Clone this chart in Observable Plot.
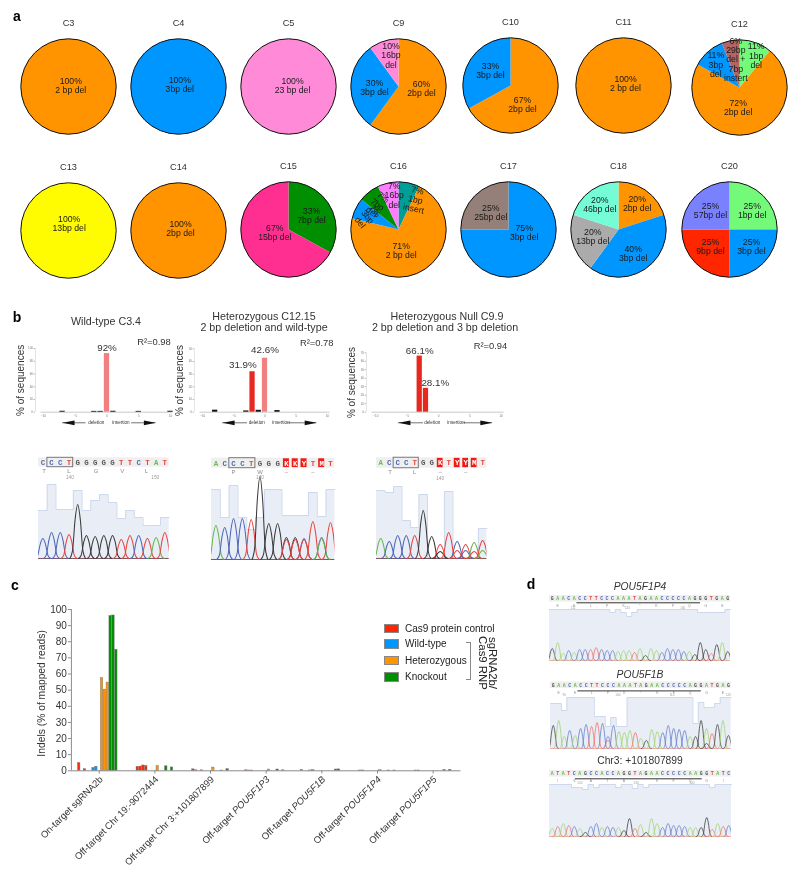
<!DOCTYPE html>
<html>
<head>
<meta charset="utf-8">
<script src="https://cdn.jsdelivr.net/npm/d3@7"></script>
<script src="https://cdn.jsdelivr.net/npm/@observablehq/plot@0.6"></script>
<style>
  html,body{margin:0;padding:0;background:#fff}
  #page{position:relative;width:800px;height:879px;overflow:hidden;background:#fff;font-family:"Liberation Sans",Arial,sans-serif;color:#222;filter:blur(.3px)}
  #page svg{max-width:none}
</style>
</head>
<body>
<div id="page"></div>
<script>
/* ---------- colours ---------- */
const TANGERINE="#FF9300", AQUA="#0096FF", CARNATION="#FF8AD8", LEMON="#FFFB00", STRAWBERRY="#FF2F92",
      CLOVER="#008F00", MAUVE="#B36464", FLORA="#73FA79", TEAL="#009E96", SPINDRIFT="#73FCD6",
      SILVER="#ABABAB", MOCHA="#948078", PERIWINKLE="#7A81FF", MARASCHINO="#FF2600", BUBBLEGUM="#FF7EFF";

/* ---------- panel a: clones ---------- */
const pieTitles=["C3","C4","C5","C9","C10","C11","C12","C13","C14","C15","C16","C17","C18","C20"];
const pieShares=[[100],[100],[100],[60,30,10],[67,33],[100],[11,72,11,6],
                 [100],[100],[33,67],[7,71,7,7,7],[75,25],[20,40,20,20],[25,25,25,25]];
const pieColors=[[TANGERINE],[AQUA],[CARNATION],[TANGERINE,AQUA,CARNATION],[TANGERINE,AQUA],[TANGERINE],[FLORA,TANGERINE,AQUA,MAUVE],
                 [LEMON],[TANGERINE],[CLOVER,STRAWBERRY],[TEAL,TANGERINE,AQUA,CLOVER,BUBBLEGUM],[AQUA,MOCHA],[TANGERINE,AQUA,SILVER,SPINDRIFT],[FLORA,AQUA,MARASCHINO,PERIWINKLE]];
const pieTexts=[["100%\n2 bp del"],["100%\n3bp del"],["100%\n23 bp del"],["60%\n2bp del","30%\n3bp del","10%\n16bp\ndel"],["67%\n2bp del","33%\n3bp del"],["100%\n2 bp del"],
                ["11%\n1bp\ndel","72%\n2bp del","11%\n3bp\ndel","6%\n29bp\ndel +\n7bp\ninstert"],
                ["100%\n13bp del"],["100%\n2bp del"],["33%\n7bp del","67%\n15bp del"],["7%\n1bp\ninsert","71%\n2 bp del","7%\n3bp\ndel","7%\n7bp\ndel","7%\n16bp\ndel"],
                ["75%\n3bp del","25%\n25bp del"],["20%\n2bp del","40%\n3bp del","20%\n13bp del","20%\n46bp del"],["25%\n1bp del","25%\n3bp del","25%\n9bp del","25%\n57bp del"]];
/* page placement of each pie, label nudges relative to pie centre */
const pieCentreX=[68.3,178.3,288.3,397.6,509.5,622.5,738.8,67.7,178,287.7,397.7,508,618.2,729];
const pieCentreY=[85.7,85.7,86,86,85.3,85,87,230,230.3,229.3,229.3,229,229,229];
const pieTextDx=[[2.3],[1.3],[4],[23,-24,-7.5],[12,-20],[2],[16.7,-1.3,-23.7,-3.7],[.7],[2],[23,-13.7],[17,2.7,-31,-21,-4.3],[15.7,-17.7],[18.7,14.7,-25.7,-18.7],[22.7,22,-19,-19]];
const pieTextDy=[[-1],[-2.3],[-1.3],[2.3,1,-31],[19,-15],[-2.3],[-31.7,20,-22.7,-28],[-6.7],[-2.3],[-14,3.3],[-30,21,-12.7,-25,-34],[3,-17],[-26.3,24,6.7,-25.3],[-19.3,17.3,17.3,-19.3]];
const pieTextTurn=[[0],[0],[0],[0,0,0],[0,0],[0],[0,0,0,0],[0],[0],[0,0],[12,0,52,38,0],[0,0],[0,0,0,0],[0,0,0,0]];

/* ---------- panel b: indel spectra ---------- */
const specTitles=[["Wild-type C3.4"],["Heterozygous C12.15","2 bp deletion and wild-type"],["Heterozygous Null C9.9","2 bp deletion and 3 bp deletion"]];
const specR2=["R²=0.98","R²=0.78","R²=0.94"];
const specShiftsMain=[[0],[-2,0],[-3,-2]];
const specValuesMain=[[92],[31.9,42.6],[66.1,28.1]];
const specLabels=[["92%"],["31.9%","42.6%"],["66.1%","28.1%"]];
const specShiftsMinor=[[-7,-2,-1,1,5,10],[-8,-3,-1,2],[]];
const specValuesMinor=[[1.5,1.3,1.3,1.5,1.3,1.5],[1.6,1,1.5,1.3],[]];
const specAxisMax=[100,50,70];

/* ---------- chromatograms ---------- */
const seqB1="CCCTGGGGGTTCTAT", seqB2="ACCCTGGGKKYTMT", seqB3="ACCCTGGKTYYMT";
const peaksB1="C20 C26 C26 T24 G54 G23 G22 G23 G23 T19 T23 C23 T20 A21 T26";
const peaksB2="A34 C32 C41 C41 T40 G83 G36 G36 G22/T20 G22/T20 C21/T20 T38 C22/A21 T37";
const peaksB3="A20 C17 C23 C23 T23 G48 G22 T14/G7 T26 C17/T8 T14/C8 A16/T7 T18/A8";
const qualB1=[48,74,49,49,68,48,58,64,56,40,48,41,33,33,41];
const qualB2=[70,42,74,42,30,42,70,70,44,44,44,67,43,70];
const qualB3=[68,66,72,38,31,64,1,1,67,1,1,1,30];
const seqD1="GAACACCTTCCCAAATAGAACCCCCAGGGTGAG", seqD2="GAACACCTTCCCAAATAGAACCCCCAGGATGAG", seqD3="ATATCAGCCACCAGGTAGAACCCCCAAGGTATC";
const peaksD1="G12 A18 A7 C10 A8 C11 C11 T11 T13 C11 C10 C10 A9 A10 A10 T8 A12 G5 A12 A10 C8 C12 C11 C11 C9 A9 G6 G18 G11 T7 G16 A18 G9";
const peaksD2="G23 A28 A12 C18 A13 C20 C24 T22 T26 C25 C12/T8 C23 A17 A16 A18 T16 A10 G8 A19 A17 C16 C23 C20 C19 C18 A12 G12 G28 A20/G5 T15 G24 A28 G13";
const peaksD3="A8 T10 A13 T11 C10 A8 G4 C10 C13 A9 C10 C9 A9 G6 G18 T8 A12 G4 A18 A13 C9 C13 C11 C11 C10 A9 A9 G9 G19 T7 A13 T10 C11";
const qualD1=[51,51,51,51,51,51,51,51,51,51,51,48,51,48,44,48,51,51,51,51,51,51,51,51,51,51,51,48,48,48,48,48,51];
const qualD2=[45,45,38,51,51,51,51,51,32,32,22,31,22,22,51,51,51,51,51,51,51,51,51,51,51,51,25,46,41,41,45,51,51];
const qualD3=[52,52,52,52,49,49,47,52,49,52,52,52,49,52,52,48,52,49,52,52,52,52,52,52,52,52,52,52,52,49,52,52,52];
const aminoB1=[[0.15,"T"],[3,"L"],[6.1,"G"],[9.1,"V"],[11.9,"L"]];
const aminoB2=[[2,"P"],[5,"W"],[8,"–"],[11,"–"]];
const aminoB3=[[1.1,"T"],[4,"L"],[7,"–"],[10,"–"]];
const codonsB1=[[3.1,"140"],[12.9,"150"]], codonsB2=[[5,"140"]], codonsB3=[[7,"140"]];
const aminoD1=[[1,"E"],[4,"E"],[7,"L"],[10,"P"],[13,"K"],[16,"*"],[19,"K"],[22,"F"],[25,"Q"],[28,"G"],[31,"E"]];
const aminoD2=aminoD1;
const aminoD3=[[1,"I"],[4,"S"],[7,"A"],[10,"T"],[13,"A"],[19,"K"],[22,"F"],[25,"Q"],[28,"G"],[31,"I"]];
const codonsD1=[[3.8,"112"],[13.7,"120"],[23.8,"130"]], codonsD2=[[2,"90"],[11.8,"100"],[21.7,"110"],[32,"120"]], codonsD3=[[5,"120"],[15.2,"130"],[25.3,"140"]];

/* ---------- panel c: amplicon indels ---------- */
const targets=["On-target sgRNA2b","Off-target Chr 19:-9072444","Off-target Chr 3:+101807899","Off-target POU5F1P3","Off-target POU5F1B","Off-target POU5F1P4","Off-target POU5F1P5"];
const conditions=["Cas9 protein control","Wild-type","Heterozygous","Knockout"];
const conditionColors=[MARASCHINO,AQUA,TANGERINE,CLOVER];
const conditionOfSample=[0,0,0,0,0,1,1,1,2,2,2,3,3,3];
const indelsOnTarget =[4.8,0,1,0,0,1.8,2.5,0,57.5,50.3,54.7,96,96.3,75];
const indelsChr19    =[0,2.5,2.6,3.3,2.9,0,0,0,3,0,0,2.8,0,2.1];
const indelsChr3     =[0,.9,.3,0,.3,0,0,0,2,0,0,.2,0,1];
const indelsP3       =[.3,.2,.2,0,0,0,0,0,.8,0,0,.8,0,.3];
const indelsP1B      =[.5,0,0,.2,.4,0,0,0,0,0,0,0,.8,.9];
const indelsP4       =[0,.2,.2,0,0,0,0,0,.4,0,0,.2,0,.2];
const indelsP5       =[0,.2,.2,0,0,0,0,0,0,0,0,.5,0,.6];
const indelRows=[indelsOnTarget,indelsChr19,indelsChr3,indelsP3,indelsP1B,indelsP4,indelsP5];

/* ---------- helpers ---------- */
const page=document.getElementById("page");
const FONT="'Liberation Sans',Arial,sans-serif";
function place(el,left,top){el.style.position="absolute";el.style.left=left+"px";el.style.top=top+"px";page.append(el);return el;}
function label(text,x,y,css={}){
  const d=document.createElement("div");d.textContent=text;
  Object.assign(d.style,{transform:"translate(-50%,-50%)",whiteSpace:"nowrap",fontSize:"10.5px",color:"#333"},css);
  return place(d,x,y);
}
const baseStyle={fontFamily:FONT,background:"transparent",overflow:"visible"};

/* ---------- panel a ---------- */
const R=47.7;
function sliceOutline(from,to){
  const steps=Math.max(2,Math.ceil((to-from)*180)), pts=[];
  if(to-from<1) pts.push({x:0,y:0});
  for(let i=0;i<=steps;i++){const a=2*Math.PI*(from+(to-from)*i/steps);pts.push({x:R*Math.sin(a),y:-R*Math.cos(a)});}
  return pts;
}
pieTitles.forEach((name,p)=>{
  const total=d3.sum(pieShares[p]); let run=0;
  const sliceMarks=pieShares[p].map((share,s)=>{
    const from=run/total; run+=share;
    return Plot.line(sliceOutline(from,run/total),{x:"x",y:"y",fill:pieColors[p][s],stroke:"none",curve:"linear"});
  });
  const texts=pieTexts[p].map((text,s)=>({text,dx:pieTextDx[p][s],dy:pieTextDy[p][s],turn:pieTextTurn[p][s]}));
  const chart=Plot.plot({
    width:110,height:135,margin:0,style:baseStyle,
    x:{domain:[-55,55],range:[0,110],axis:null},
    y:{domain:[-75,60],range:[0,135],axis:null},
    marks:[
      ...sliceMarks,
      Plot.dot([{x:0,y:0}],{x:"x",y:"y",r:R,fill:"none",stroke:"#111",strokeWidth:1}),
      Plot.text(texts,{x:"dx",y:"dy",text:"text",rotate:"turn",fontSize:8.7,lineHeight:1.07,fill:"#1a1a1a"}),
      Plot.text([name],{x:()=>0,y:()=>-63.7,text:d=>d,fontSize:9.2,fill:"#333"})
    ]
  });
  place(chart,pieCentreX[p]-55,pieCentreY[p]-75);
});
label("a",17,16,{fontWeight:"bold",fontSize:"14px",color:"#000"});
label("b",17,317,{fontWeight:"bold",fontSize:"14px",color:"#000"});
label("c",15,585,{fontWeight:"bold",fontSize:"14px",color:"#000"});
label("d",531,584,{fontWeight:"bold",fontSize:"14px",color:"#000"});

/* ---------- panel b spectra ---------- */
const specLayout=[
  {axisX:34.5,end:172,zero:106,unit:6.35,top:348,r2y:341.7,labelDx:[0],labelDy:[-6],arrow:[-7,-3.3,3.9,7.7],delX:-1.7,insX:2.2,titleX:[106],titleY:[321],mainFill:["#F28080"]},
  {axisX:193.5,end:329,zero:264,unit:6.23,top:348.3,r2y:342,labelDx:[-9.7,0],labelDy:[-6.5,-8.5],arrow:[-6.8,-2.8,3.7,8.3],delX:-1.33,insX:2.57,titleX:[264,264],titleY:[316,327],mainFill:["#E8281F","#F28080"]},
  {axisX:366,end:503.5,zero:438,unit:6.26,top:352.3,r2y:345,labelDx:[0,9.3],labelDy:[-5,-5.3],arrow:[-6.4,-2.4,4.0,8.6],delX:-1,insX:2.8,titleX:[447,445],titleY:[316,327],mainFill:["#E8281F","#E8281F"]}
];
const R2X=[153,315.7,490];
const BASE_Y=411.7, SPEC_TOP=333;
specTitles.forEach((lines,k)=>{
  const L=specLayout[k];
  lines.forEach((t,j)=>label(t,L.titleX[j],L.titleY[j],{fontSize:"10.7px"}));
  const ymax=specAxisMax[k];
  const pxPerY=(BASE_Y-L.top)/ymax;
  const toUnitX=px=>(px-L.zero)/L.unit;
  const toUnitY=py=>(BASE_Y-py)/pxPerY;
  const x0=toUnitX(L.axisX), x1=toUnitX(L.end);
  const main=specShiftsMain[k].map((s,i)=>({s,v:specValuesMain[k][i],fill:L.mainFill[i],t:specLabels[k][i],dx:L.labelDx[i],dy:L.labelDy[i]}));
  const minor=specShiftsMinor[k].map((s,i)=>({s,v:specValuesMinor[k][i]}));
  const arrowY=toUnitY(422.3), headH=2.4/pxPerY, headL=12/L.unit;
  const [a,b,c,e]=L.arrow;
  const chart=Plot.plot({
    width:L.end-L.axisX+44,height:110,style:baseStyle,
    marginLeft:34,marginRight:10,marginTop:L.top-SPEC_TOP,marginBottom:SPEC_TOP+110-BASE_Y,
    x:{domain:[x0,x1],axis:null},
    y:{domain:[0,ymax],axis:null},
    marks:[
      Plot.ruleX([x0],{y1:0,y2:ymax,stroke:"#ddd",strokeWidth:.8}),
      Plot.ruleY([0],{x1:toUnitX(L.axisX+5.5),x2:x1,stroke:"#bbb",strokeWidth:.8}),
      Plot.axisY({ticks:d3.range(0,ymax+1,10*(ymax===100?2:1)),tickSize:1.5,fontSize:3,stroke:"#bbb",fill:"#777",tickPadding:1,label:null,anchor:"left"}),
      Plot.axisX({ticks:[-10,-5,0,5,10],tickSize:0,fontSize:3,fill:"#777",tickPadding:3,label:null,anchor:"bottom"}),
      Plot.rectY(minor,{x1:d=>d.s-.42,x2:d=>d.s+.42,y:"v",fill:"#111"}),
      Plot.rectY(main,{x1:d=>d.s-.42,x2:d=>d.s+.42,y:"v",fill:"fill"}),
      ...main.map(m=>Plot.text([m],{x:"s",y:"v",text:"t",dx:m.dx,dy:m.dy,fontSize:9.8,fill:"#333"})),
      Plot.text([specR2[k]],{x:()=>toUnitX(R2X[k]),y:()=>toUnitY(L.r2y),text:d=>d,fontSize:9.4,fill:"#333"}),
      Plot.text(["% of sequences"],{x:()=>toUnitX(L.axisX-14.5),y:()=>ymax/2,text:d=>d,rotate:-90,fontSize:10,fill:"#333"}),
      Plot.ruleY([arrowY],{x1:a,x2:b,stroke:"#111",strokeWidth:.6}),
      Plot.ruleY([arrowY],{x1:c,x2:e,stroke:"#111",strokeWidth:.6}),
      Plot.line([{x:a,y:arrowY},{x:a+headL,y:arrowY+headH},{x:a+headL,y:arrowY-headH}],{x:"x",y:"y",fill:"#111",stroke:"none"}),
      Plot.line([{x:e,y:arrowY},{x:e-headL,y:arrowY+headH},{x:e-headL,y:arrowY-headH}],{x:"x",y:"y",fill:"#111",stroke:"none"}),
      Plot.text(["deletion"],{x:()=>L.delX,y:()=>arrowY,text:d=>d,fontSize:4.6,fill:"#333"}),
      Plot.text(["insertion"],{x:()=>L.insX,y:()=>arrowY,text:d=>d,fontSize:4.6,fill:"#333"})
    ]
  });
  place(chart,L.axisX-34,SPEC_TOP);
});

/* ---------- chromatograms ---------- */
const traceInk={A:"#63B548",C:"#4F66B8",G:"#3A3A3A",T:"#E8443C"};
const traceInkSoft={A:"#A6D67A",C:"#6D85CC",G:"#4A4A4A",T:"#EE7A70"};
const letterInk={A:"#6CBB4C",C:"#4F66B8",G:"#555",T:"#E8443C"};
function parsePeaks(text){
  return text.split(" ").flatMap((group,i)=>group.split("/").map(tok=>({i,base:tok[0],h:+tok.slice(1)})));
}
function chromatogram(o){
  const n=o.seq.length, H=o.height;
  const peaks=parsePeaks(o.peaks);
  const shape=[[-.9,0],[-.6,.14],[-.3,.72],[0,1],[.3,.72],[.6,.14],[.9,0]];
  const pts=peaks.flatMap((p,id)=>shape.map(([dx,f])=>({id,base:p.base,x:p.i+dx,y:p.h*f})));
  const qual=[{i:-.5,q:o.qual[0]},...o.qual.map((q,i)=>({i,q})),{i:n-.5,q:o.qual[n-1]}];
  const letters=[...o.seq].map((c,i)=>({i,c,amb:!"ACGT".includes(c)}));
  const palette=o.soft?traceInkSoft:traceInk;
  const marks=[
    Plot.areaY(qual,{x:"i",y:"q",curve:"step",fill:"#E9EDF6"}),
    Plot.lineY(qual,{x:"i",y:"q",curve:"step",stroke:"#CDD8EC",strokeWidth:1}),
    Plot.ruleY([0],{stroke:o.soft?"#E89A90":"#5A2A3A",strokeWidth:.8}),
    Plot.line(pts,{x:"x",y:"y",z:"id",stroke:d=>palette[d.base],curve:"monotone-x",strokeWidth:o.soft?.85:1.05,clip:true}),
    Plot.rect([0],{x1:()=>-.5,x2:()=>n-.5,y1:()=>o.letterY-o.strip/2,y2:()=>o.letterY+o.strip/2,fill:"#EFEFEF"}),
    Plot.rect(letters.filter(d=>d.amb),{x1:d=>d.i-.34,x2:d=>d.i+.34,y1:()=>o.letterY-o.strip/2+.6,y2:()=>o.letterY+o.strip/2-.6,fill:"#EE1C14"}),
    Plot.text(letters,{x:"i",y:()=>o.letterY,text:"c",fill:d=>d.amb?"#fff":letterInk[d.c]||"#555",fontFamily:"'Liberation Mono',monospace",fontWeight:"bold",fontSize:o.letterSize}),
    Plot.text(o.amino,{x:d=>d[0],y:()=>o.aminoY,text:d=>d[1],fontSize:o.aminoSize,fill:"#8d8d8d"}),
    Plot.text(o.codons,{x:d=>d[0],y:()=>o.codonY,text:d=>d[1],fontSize:o.codonSize,fill:"#9a9a9a"})
  ];
  if(o.box) marks.push(Plot.rect([0],{x1:()=>o.box[0]-.48,x2:()=>o.box[1]+.48,y1:()=>o.letterY-o.strip/2,y2:()=>o.letterY+o.strip/2,fill:"none",stroke:"#777",strokeWidth:1}));
  if(o.underline) marks.push(Plot.ruleY([o.underlineY],{x1:o.underline[0],x2:o.underline[1],stroke:"#333",strokeWidth:1}));
  const chart=Plot.plot({
    width:o.width,height:H+2,margin:0,style:baseStyle,
    x:{domain:[-.5,n-.5],range:[0,o.width],axis:null},
    y:{domain:[0,H],range:[H,0],axis:null},
    marks
  });
  place(chart,o.left,o.base-H);
}
chromatogram({seq:seqB1,peaks:peaksB1,qual:qualB1,left:38.3,width:130.7,base:557.7,height:106,letterY:96,strip:9.4,letterSize:7.4,amino:aminoB1,codons:codonsB1,aminoY:87,codonY:81,aminoSize:6,codonSize:4.8,box:[1,3]});
chromatogram({seq:seqB2,peaks:peaksB2,qual:qualB2,left:211.3,width:123.4,base:559.3,height:106,letterY:96.3,strip:10,letterSize:7.4,amino:aminoB2,codons:codonsB2,aminoY:87,codonY:82,aminoSize:6,codonSize:4.8,box:[2,4]});
chromatogram({seq:seqB3,peaks:peaksB3,qual:qualB3,left:376.3,width:110.4,base:558.3,height:106,letterY:95.5,strip:10.5,letterSize:7.4,amino:aminoB3,codons:codonsB3,aminoY:86.3,codonY:80,aminoSize:6,codonSize:4.8,box:[2,4]});

const dBase={soft:true,letterSize:4.9,aminoSize:3.4,codonSize:3,strip:6.6,height:68};
chromatogram({...dBase,seq:seqD1,peaks:peaksD1,qual:qualD1,left:549,width:181,base:660,letterY:61.7,amino:aminoD1,codons:codonsD1,aminoY:55,codonY:52.4,underline:[4.5,27.05],underlineY:57.7});
chromatogram({...dBase,seq:seqD2,peaks:peaksD2,qual:qualD2,left:550,width:180.7,base:748.3,letterY:63.3,amino:aminoD2,codons:codonsD2,aminoY:56,codonY:53,underline:[4.5,27.05],underlineY:57.6});
chromatogram({...dBase,seq:seqD3,peaks:peaksD3,qual:qualD3,left:549,width:182,base:836,letterY:62.7,amino:aminoD3,codons:codonsD3,aminoY:56,codonY:53.3,underline:[4.2,27.2],underlineY:57.7});
label("POU5F1P4",640,586,{fontStyle:"italic",fontSize:"10.3px"});
label("POU5F1B",640,674,{fontStyle:"italic",fontSize:"10.3px"});
label("Chr3: +101807899",640,760,{fontSize:"10.3px"});

/* ---------- panel c bars ---------- */
const GROUP=19.5, SLOT0=2.74;
const bars=indelRows.flatMap((row,g)=>row.map((v,k)=>({pos:g*GROUP+SLOT0+k,v,cond:conditions[conditionOfSample[k]]}))).filter(d=>d.v>0);
const tickPos=targets.map((t,i)=>(i+.5)*GROUP);
const barChart=Plot.plot({
  width:480,height:289,style:baseStyle,
  marginLeft:70.9,marginRight:19.5,marginTop:19,marginBottom:108.7,
  x:{domain:[0,7*GROUP],axis:null},
  y:{domain:[0,100],axis:null},
  color:{domain:conditions,range:conditionColors},
  marks:[
    Plot.rectY(bars,{x1:d=>d.pos-.42,x2:d=>d.pos+.42,y:"v",fill:"cond",stroke:"#777",strokeWidth:.45}),
    Plot.ruleY([0],{stroke:"#8a8a8a",strokeWidth:1}),
    Plot.ruleX([0],{y1:0,y2:100,stroke:"#8a8a8a",strokeWidth:1}),
    Plot.axisY({ticks:d3.range(0,101,10),tickSize:3,fontSize:10,stroke:"#8a8a8a",fill:"#333",tickPadding:1.5,label:null,anchor:"left"}),
    Plot.ruleX(tickPos,{y1:0,y2:-2,stroke:"#8a8a8a",strokeWidth:1}),
    Plot.text(targets,{x:(d,i)=>tickPos[i],y:()=>0,text:d=>d,rotate:-45,textAnchor:"end",dx:2,dy:7,fontSize:9.5,fill:"#333"}),
    Plot.text(["Indels (% of mapped reads)"],{x:()=>-10.5,y:()=>48,text:d=>d,rotate:-90,fontSize:10.3,fill:"#333"})
  ]
});
barChart.querySelectorAll("text").forEach(t=>{
  const s=t.textContent, m=s.match(/^(Off-target )(POU5F1\w+)$/);
  if(m){t.textContent=m[1];const sp=document.createElementNS("http://www.w3.org/2000/svg","tspan");sp.setAttribute("font-style","italic");sp.textContent=m[2];t.append(sp);}
});
place(barChart,0,590);

/* legend */
const legendY=[627.5,643,659.7,676];
conditions.forEach((name,i)=>{
  const sw=document.createElement("div");
  Object.assign(sw.style,{width:"13px",height:"7.5px",background:conditionColors[i],border:"0.7px solid #888",boxSizing:"content-box"});
  place(sw,384,legendY[i]-4);
  const t=document.createElement("div");t.textContent=name;
  Object.assign(t.style,{fontSize:"10px",color:"#222",whiteSpace:"nowrap",transform:"translateY(-50%)"});
  place(t,405,legendY[i]);
});
const bracket=document.createElement("div");
Object.assign(bracket.style,{width:"4px",height:"36px",borderTop:"1px solid #888",borderRight:"1px solid #888",borderBottom:"1px solid #888"});
place(bracket,466,641.5);
const sideNote=document.createElement("div");
sideNote.innerHTML="sgRNA2b/<br>Cas9 RNP";
Object.assign(sideNote.style,{writingMode:"vertical-rl",fontSize:"11.4px",lineHeight:"10.4px",color:"#222",whiteSpace:"nowrap",transform:"translate(-50%,-50%)",textAlign:"center"});
place(sideNote,488,663.3);
</script>
</body>
</html>
